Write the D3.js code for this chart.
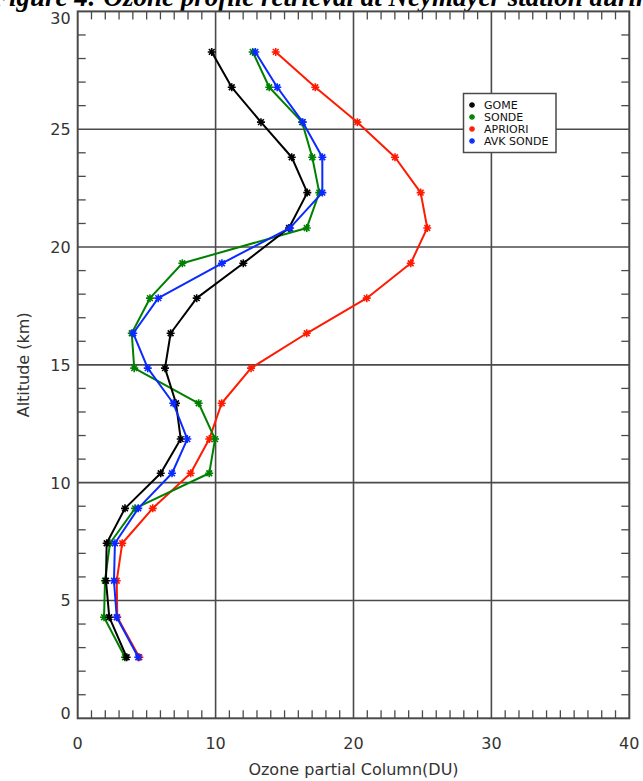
<!DOCTYPE html>
<html>
<head>
<meta charset="utf-8">
<script src="https://cdn.jsdelivr.net/npm/d3@7"></script>
<style>
  html, body { margin: 0; padding: 0; background: #fff; }
  svg { display: block; }
</style>
</head>
<body>
<svg id="chart" width="643" height="781"></svg>
<script>
// ---- Data ----
const altitudes = [28.28, 26.78, 25.30, 23.81, 22.31, 20.81, 19.31, 17.83, 16.34, 14.86, 13.37, 11.85, 10.40, 8.91, 7.43, 5.84, 4.29, 2.59];
const gome    = [9.72, 11.17, 13.29, 15.52, 16.65, 15.32, 12.01, 8.63, 6.74, 6.33, 7.13, 7.47, 6.02, 3.43, 2.10, 2.05, 2.29, 3.55];
const sonde   = [12.69, 13.89, 16.27, 17.01, 17.52, 16.61, 7.59, 5.24, 3.92, 4.10, 8.77, 9.96, 9.54, 4.16, 2.34, 1.98, 1.91, 3.43];
const apriori = [14.36, 17.23, 20.28, 23.01, 24.87, 25.35, 24.15, 20.96, 16.61, 12.57, 10.44, 9.54, 8.19, 5.44, 3.23, 2.83, 2.87, 4.47];
const avkSonde= [12.88, 14.47, 16.32, 17.74, 17.74, 15.40, 10.46, 5.84, 4.03, 5.08, 6.93, 7.95, 6.84, 4.39, 2.70, 2.63, 2.83, 4.39];
const seriesNames = ["GOME", "SONDE", "APRIORI", "AVK SONDE"];
const seriesColors = ["#000000", "#008000", "#ff1a00", "#0a2aff"];
const xTicks = [0, 10, 20, 30, 40];
const yTicks = [0, 5, 10, 15, 20, 25, 30];
const titleText = "Figure 4: Ozone profile retrieval at Neymayer station during";
const xLabel = "Ozone partial Column(DU)";
const yLabel = "Altitude (km)";

// ---- Layout ----
const svg = d3.select("#chart");
const pLeft = 77.7, pRight = 629.3, pTop = 11.4, pBottom = 718.3;
const x = d3.scaleLinear().domain([0, 40]).range([pLeft, pRight]);
const y = d3.scaleLinear().domain([0, 30]).range([pBottom, pTop]);
const axisColor = "#4a4a4a";
const tickFont = "'DejaVu Sans', sans-serif";

// Title (cut off at the top as in the reference)
svg.append("text")
  .attr("x", -9).attr("y", 6)
  .attr("font-family", "'Liberation Serif', 'Times New Roman', serif")
  .attr("font-weight", "bold").attr("font-style", "italic")
  .attr("font-size", 27)
  .attr("fill", "#000")
  .text(titleText);

// Gridlines
const g = svg.append("g");
g.selectAll("line.vg").data(xTicks.slice(1, -1)).join("line")
  .attr("x1", d => x(d)).attr("x2", d => x(d))
  .attr("y1", pTop).attr("y2", pBottom)
  .attr("stroke", axisColor).attr("stroke-width", 1.6);
g.selectAll("line.hg").data(yTicks.slice(1, -1)).join("line")
  .attr("y1", d => y(d)).attr("y2", d => y(d))
  .attr("x1", pLeft).attr("x2", pRight)
  .attr("stroke", axisColor).attr("stroke-width", 1.6);

// Minor ticks
const xMinor = d3.range(1, 40).filter(v => v % 10 !== 0);
const yMinor = d3.range(1, 30).filter(v => v % 5 !== 0);
const tl = 8;
const mg = svg.append("g").attr("stroke", axisColor).attr("stroke-width", 1.3);
mg.selectAll("line.xmb").data(xMinor).join("line").attr("class", "xmb")
  .attr("x1", d => x(d)).attr("x2", d => x(d))
  .attr("y1", pBottom).attr("y2", pBottom - tl);
mg.selectAll("line.xmt").data(xMinor).join("line").attr("class", "xmt")
  .attr("x1", d => x(d)).attr("x2", d => x(d))
  .attr("y1", pTop).attr("y2", pTop + tl);
mg.selectAll("line.yml").data(yMinor).join("line").attr("class", "yml")
  .attr("y1", d => y(d)).attr("y2", d => y(d))
  .attr("x1", pLeft).attr("x2", pLeft + tl);
mg.selectAll("line.ymr").data(yMinor).join("line").attr("class", "ymr")
  .attr("y1", d => y(d)).attr("y2", d => y(d))
  .attr("x1", pRight).attr("x2", pRight - tl);

// Frame
svg.append("rect")
  .attr("x", pLeft).attr("y", pTop)
  .attr("width", pRight - pLeft).attr("height", pBottom - pTop)
  .attr("fill", "none").attr("stroke", axisColor).attr("stroke-width", 2);

// Tick labels
svg.append("g").selectAll("text").data(xTicks).join("text")
  .attr("x", d => x(d)).attr("y", pBottom + 31)
  .attr("text-anchor", "middle")
  .attr("font-family", tickFont).attr("font-size", 16)
  .attr("fill", "#333")
  .text(d => d);
// end labels sit slightly inside the frame, as in the reference
svg.append("g").selectAll("text").data(yTicks).join("text")
  .attr("x", pLeft - 7)
  .attr("y", (d, i) => y(d) + 6 + (i === 0 ? -5 : i === yTicks.length - 1 ? 7 : 0))
  .attr("text-anchor", "end")
  .attr("font-family", tickFont).attr("font-size", 16)
  .attr("fill", "#333")
  .text(d => d);

// Axis labels
svg.append("text")
  .attr("x", (pLeft + pRight) / 2).attr("y", 775)
  .attr("text-anchor", "middle")
  .attr("font-family", tickFont).attr("font-size", 16)
  .attr("fill", "#333")
  .text(xLabel);
svg.append("text")
  .attr("transform", `translate(29, ${(pTop + pBottom) / 2}) rotate(-90)`)
  .attr("text-anchor", "middle")
  .attr("font-family", tickFont).attr("font-size", 16)
  .attr("fill", "#333")
  .text(yLabel);

// Series
const allSeries = [gome, sonde, apriori, avkSonde];
const line = d3.line().x(d => x(d[0])).y(d => y(d[1]));
function starPath(r) {
  const a = r * 0.72;
  return `M${-r},0L${r},0M0,${-r}L0,${r}M${-a},${-a}L${a},${a}M${-a},${a}L${a},${-a}`;
}
// draw order: apriori, sonde, gome, avk on top
[2, 1, 0, 3].forEach(i => {
  const pts = allSeries[i].map((v, k) => [v, altitudes[k]]);
  const sg = svg.append("g");
  sg.append("path").datum(pts)
    .attr("d", line)
    .attr("fill", "none")
    .attr("stroke", seriesColors[i]).attr("stroke-width", 2)
    .attr("stroke-linejoin", "round");
  sg.selectAll("path.m").data(pts).join("path").attr("class", "m")
    .attr("transform", d => `translate(${x(d[0])},${y(d[1])})`)
    .attr("d", starPath(4))
    .attr("stroke", seriesColors[i]).attr("stroke-width", 1.6)
    .attr("fill", "none");
});

// Legend
const lg = svg.append("g");
lg.append("rect")
  .attr("x", 463.5).attr("y", 93.5).attr("width", 92.5).attr("height", 59)
  .attr("fill", "#fff").attr("stroke", axisColor).attr("stroke-width", 1.5);
seriesNames.forEach((name, i) => {
  const yy = 105 + i * 12;
  lg.append("path")
    .attr("transform", `translate(472, ${yy})`)
    .attr("d", starPath(3))
    .attr("stroke", seriesColors[i]).attr("stroke-width", 1.3).attr("fill", "none");
  lg.append("text")
    .attr("x", 484).attr("y", yy + 4)
    .attr("font-family", tickFont).attr("font-size", 11)
    .attr("fill", "#111")
    .text(name);
});
</script>
</body>
</html>
